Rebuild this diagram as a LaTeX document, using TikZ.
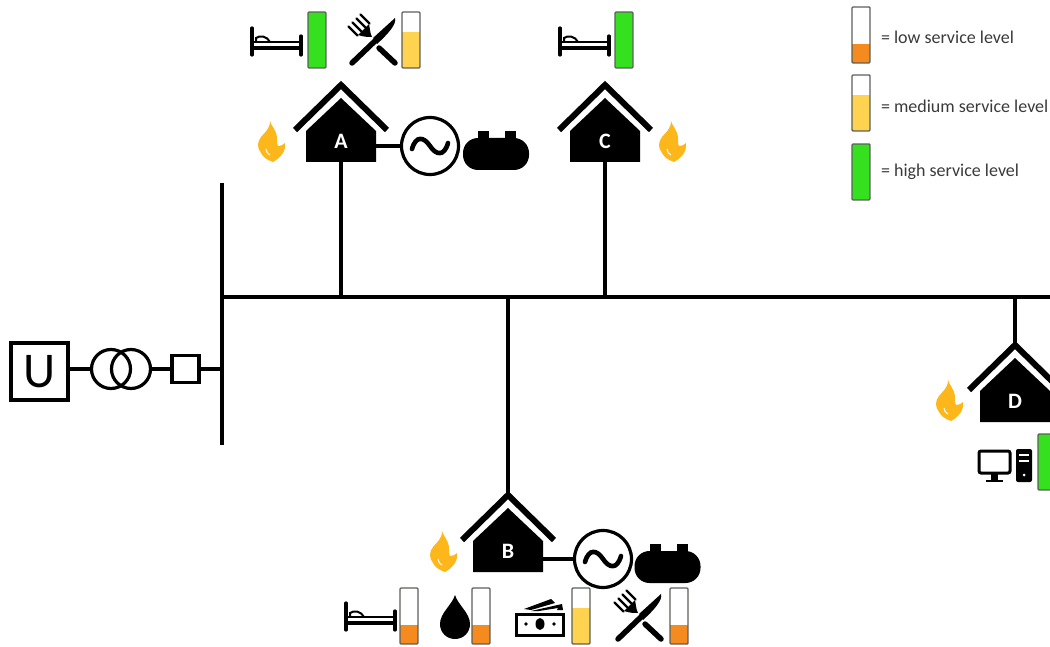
\documentclass[tikz,border=0pt]{standalone}
\usepackage{fontspec}
\setmainfont{Carlito}
\definecolor{lvlgreen}{HTML}{35E01F}
\definecolor{lvlorange}{HTML}{F58A1F}
\definecolor{lvlyellow}{HTML}{FFD24F}
\definecolor{lvlframe}{HTML}{5A5F5A}
\definecolor{flamecol}{HTML}{FDB71A}
\definecolor{legendtxt}{HTML}{3A3A3A}
\tikzset{
    busline/.style={line width=3.4pt},
    elbox/.style={draw, line width=3.2pt, inner sep=0pt, minimum size=#1},
    elcirc/.style={draw, circle, line width=3.2pt, inner sep=0pt, minimum size=#1},
    legendlbl/.style={anchor=west, text=legendtxt, font=\fontsize{18}{20}\selectfont},
    % Service level bar: fill height and colour, top left corner at the pic origin
    pics/lvlbar/.style 2 args={code={
        \fill[#2] (0,56) rectangle (18,56-#1);
        \draw[lvlframe, line width=1.4pt, rounded corners=1pt] (0,0) rectangle (18,56);
    }},
    pics/house/.style={code={
        \draw[line width=6pt] (-46,46) -- (0,1) -- (46,46);
        \fill (-35,78) -- (35,78) -- (35,47) -- (0,14) -- (-35,47) -- cycle;
        \node[white, font=\fontsize{22}{24}\selectfont\bfseries] (-lbl) at (0,57) {#1};
        \coordinate (-apex) at (0,0);
        \coordinate (-base) at (0,78);
        \coordinate (-east) at (35,62);
    }},
    pics/flame/.style={code={
        \fill[flamecol] (-2,-21) .. controls (-1,-16) and (5,-12) .. (5,-3)
            .. controls (5,1) and (5,3) .. (6,4) .. controls (9,4) and (11,3) .. (13,1)
            .. controls (14,8) and (10,15) .. (1,20) .. controls (-5,18) and (-9,15) .. (-11,11)
            .. controls (-15,6) and (-15,0) .. (-11,-5) .. controls (-7,-10) and (-2,-13) .. (-2,-21) -- cycle;
        \draw[white, line width=1pt] (-6,7) .. controls (-6,10) and (-4,12) .. (-2,13);
    }},
    pics/bed/.style={code={
        \draw[line width=3.2pt, line cap=round] (2,0) -- (2,27);
        \draw[line width=3.2pt, line cap=round] (51,8) -- (51,27);
        \draw[line width=2.4pt] (2,14) -- (51,14);
        \draw[line width=3.2pt] (2,20) -- (51,20);
        \draw[line width=2pt] (6,14) -- (6,10) .. controls (10,7) and (17,8) .. (20,14);
    }},
    pics/cutlery/.style={code={
        % Fork head and tines
        \foreach \tx/\ty in {-24.5/-14.5, -20.5/-18.5, -16.5/-22.5, -12.5/-26.5} {
            \draw[line width=2.4pt, line cap=round] (\tx,\ty) -- (\tx+9,\ty+9);
        }
        \fill (-15,-6) -- (-4,-17) .. controls (-3,-12) and (-3,-8) .. (-1,-4)
            .. controls (-5,-4) and (-9,-4) .. cycle;
        % Fork handle
        \draw[line width=5.5pt, line cap=round] (6,7) -- (22,22);
        % Knife
        \draw[white, line width=9pt] (-14,16) -- (13,-10);
        \draw[line width=5.5pt, line cap=round] (-21,22) -- (2,0);
        \fill (0,-3) -- (22,-23) .. controls (24,-17) and (15,-7) .. (4,3) -- cycle;
    }},
    pics/gastank/.style={code={
        \fill[rounded corners=15pt] (-33,-12) rectangle (33,20);
        \fill (-18,-19) rectangle (-7,-10);
        \fill (9,-19) rectangle (20,-10);
    }},
    pics/sinewave/.style={code={
        \draw[line width=4.6pt, line cap=round] (-18,3) .. controls (-14,-11) and (-6,-9) .. (0,0)
            .. controls (6,9) and (14,11) .. (18,-3);
    }},
    pics/dropicon/.style={code={
        \fill (0,-22) .. controls (3,-12) and (15,-4) .. (15,7) .. controls (15,16) and (8,22) .. (0,22)
            .. controls (-8,22) and (-15,16) .. (-15,7) .. controls (-15,-4) and (-3,-12) .. (0,-22) -- cycle;
    }},
    pics/moneyicon/.style={code={
        \draw[line width=3pt] (-24,-10) rectangle (23,11);
        \fill (0,0) ellipse (4.5 and 6);
        \fill (-14,0) circle (1.8);
        \fill (14,0) circle (1.8);
        % Notes fanned out behind the bill
        \fill (-16,-15) -- (11,-25) -- (15,-21) -- (-9,-14) -- cycle;
        \fill (-9,-13) -- (22,-20) -- (23,-14) -- (17,-14) -- (18,-16) -- (-1,-13) -- cycle;
    }},
    pics/pcicon/.style={code={
        \draw[line width=3pt, rounded corners=2pt] (-33,-15) rectangle (-2,7);
        \fill (-21,8) rectangle (-14,14);
        \draw[line width=2.6pt] (-26,15) -- (-9,15);
        \fill[rounded corners=2pt] (4,-17) rectangle (20,16);
        \draw[white, line width=1.4pt] (7,-11) -- (17,-11);
        \draw[white, line width=1.4pt] (7,-5) -- (17,-5);
        \fill[white] (12,9) circle (1.5);
    }},
}
\begin{document}
\begin{tikzpicture}[x=1pt, y=-1pt]
    \useasboundingbox (0,0) rectangle (1050,647);
    \clip (0,0) rectangle (1050,647);

    % Busbars
    \coordinate (busT) at (222,183);
    \coordinate (busB) at (222,445);
    \coordinate (busL) at (222,297);
    \coordinate (busR) at (1050,297);
    \draw[busline] (busT) -- (busB);
    \draw[busline] (busL) -- (busR);

    % Utility, transformer and breaker
    \node[elbox=57pt, font=\fontsize{50}{50}\selectfont] (utility) at (39.5,371.5) {U};
    \node[elcirc=39pt] (trafoL) at (111,369) {};
    \node[elcirc=39pt] (trafoR) at (131,369) {};
    \node[elbox=27pt] (breaker) at (185.5,369) {};
    \draw[busline] (trafoL.west -| utility.east) -- (trafoL.west);
    \draw[busline] (trafoR.east) -- (breaker.west);
    \draw[busline] (breaker.east) -- (breaker.east -| busT);

    % Houses with their feeders
    \pic (A) at (341,84) {house=A};
    \pic (C) at (605,84) {house=C};
    \pic (B) at (508,494) {house=B};
    \pic (D) at (1015,344) {house=D};
    \draw[busline] (A-base) -- (A-base |- busL);
    \draw[busline] (C-base) -- (C-base |- busL);
    \draw[busline] (B-apex) -- (B-apex |- busL);
    \draw[busline] (D-apex) -- (D-apex |- busL);

    \pic at (272,142) {flame};
    \pic at (673,142) {flame};
    \pic at (444,552) {flame};
    \pic at (950,401) {flame};

    % Generators and fuel tanks
    \node[elcirc=57pt] (genA) at (430,146) {};
    \node[elcirc=57pt] (genB) at (603,559) {};
    \pic at (genA) {sinewave};
    \pic at (genB) {sinewave};
    \draw[busline] (genA.west -| A-east) -- (genA.west);
    \draw[busline] (genB.west -| B-east) -- (genB.west);
    \pic at (496,150) {gastank};
    \pic at (667.5,563) {gastank};

    % Service icons of A and C
    \pic at (250,28) {bed};
    \pic at (308,12) {lvlbar={56}{lvlgreen}};
    \pic at (373,41) {cutlery};
    \pic at (402,12) {lvlbar={36}{lvlyellow}};
    \pic at (558,28) {bed};
    \pic at (615,12) {lvlbar={56}{lvlgreen}};

    % Service icons of B
    \pic at (344,603) {bed};
    \pic at (400,588) {lvlbar={19}{lvlorange}};
    \pic at (455,617) {dropicon};
    \pic at (472,588) {lvlbar={19}{lvlorange}};
    \pic at (540,624) {moneyicon};
    \pic at (572,588) {lvlbar={36}{lvlyellow}};
    \pic at (639,617) {cutlery};
    \pic at (670,588) {lvlbar={19}{lvlorange}};

    % Service icons of D
    \pic at (1012,466) {pcicon};
    \pic at (1038,434) {lvlbar={56}{lvlgreen}};

    % Legend
    \pic at (852,7) {lvlbar={19}{lvlorange}};
    \pic at (852,75) {lvlbar={36}{lvlyellow}};
    \pic at (852,144) {lvlbar={56}{lvlgreen}};
    \node[legendlbl] (lowlbl) at (877.5,37) {= low service level};
    \node[legendlbl] (medlbl) at (877.5,106) {= medium service level};
    \node[legendlbl] (highlbl) at (877.5,172) {= high service level};
\end{tikzpicture}
\end{document}
